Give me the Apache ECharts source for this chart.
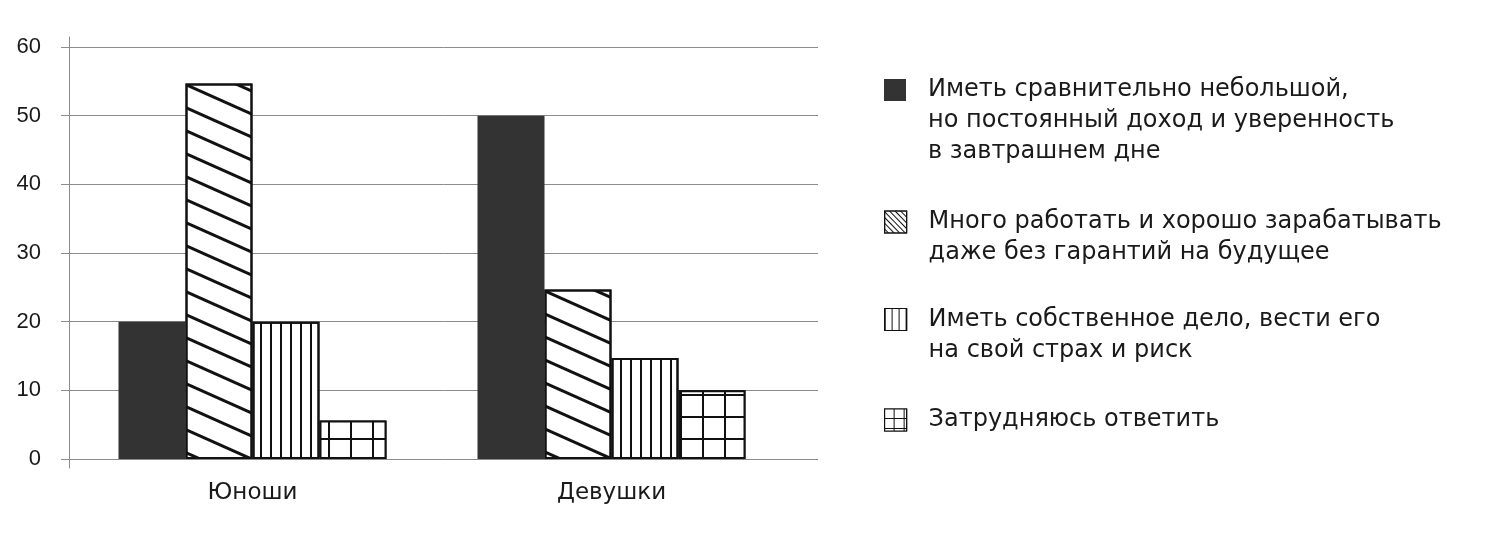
<!DOCTYPE html>
<html>
<head>
<meta charset="utf-8">
<script src="https://cdn.jsdelivr.net/npm/echarts@6/dist/echarts.min.js"></script>
<style>html,body{margin:0;padding:0;background:#fff}#c{width:1500px;height:534px}</style>
</head>
<body>
<div id="c"></div>
<script>
const categories = ['Юноши', 'Девушки'];
const seriesNames = [
  'Иметь сравнительно небольшой,\nно постоянный доход и уверенность\nв завтрашнем дне',
  'Много работать и хорошо зарабатывать\nдаже без гарантий на будущее',
  'Иметь собственное дело, вести его\nна свой страх и риск',
  'Затрудняюсь ответить'
];
const stableIncome = [20, 50];
const workHard = [54.7, 24.7];
const ownBusiness = [20, 14.7];
const hardToSay = [5.6, 10];
const yTicks = { min: 0, max: 60, interval: 10 };

const values = [stableIncome, workHard, ownBusiness, hardToSay];
const styles = [
  { color: '#333333' },
  { color: '#ffffff', borderColor: '#111', borderWidth: 2,
    decal: { symbol: 'rect', symbolSize: 1, color: '#111', dashArrayX: [1, 0], dashArrayY: [3, 18], rotation: 0.42 } },
  { color: '#ffffff', borderColor: '#111', borderWidth: 2,
    decal: { symbol: 'rect', symbolSize: 1, color: '#111', dashArrayX: [2, 8], dashArrayY: [1, 0] } },
  { color: '#111111', borderColor: '#111', borderWidth: 2,
    decal: { symbol: 'rect', symbolSize: 1, color: '#ffffff', dashArrayX: [20, 2], dashArrayY: [20, 2] } }
];
const iconStyles = [
  { color: '#333333', borderWidth: 0 },
  { color: '#ffffff', borderColor: '#111', borderWidth: 1.2,
    decal: { symbol: 'rect', symbolSize: 1, color: '#111', dashArrayX: [1, 0], dashArrayY: [1, 3], rotation: 0.8 } },
  { color: '#ffffff', borderColor: '#111', borderWidth: 1.2,
    decal: { symbol: 'rect', symbolSize: 1, color: '#111', dashArrayX: [1, 6], dashArrayY: [1, 0] } },
  { color: '#111111', borderColor: '#111', borderWidth: 1.2,
    decal: { symbol: 'rect', symbolSize: 1, color: '#ffffff', dashArrayX: [9, 1], dashArrayY: [9, 1] } }
];

const legendFont = 'DejaVu Sans';
const legendTops = [12.5, 175.5, 273, 404.5];
const legends = seriesNames.map((n, i) => {
  const lines = n.split('\n').length;
  return {
    data: [{ name: n, itemStyle: iconStyles[i] }], orient: 'vertical', left: 884, top: legendTops[i], padding: 0,
    itemWidth: 22, itemHeight: 22, icon: 'rect', selectedMode: false,
    formatter: (name) => '\n'.repeat(lines - 1) + name,
    textStyle: { fontFamily: legendFont, fontSize: 24, color: '#1a1a1a', lineHeight: 31,
      padding: [0, 0, 0, 17] }
  };
});

const chart = echarts.init(document.getElementById('c'), null, { renderer: 'canvas' });
chart.setOption({
  animation: false,
  backgroundColor: '#ffffff',
  legend: legends,
  grid: [
    { left: 69, right: 682, top: 47, bottom: 75 },
    { left: 73, width: 718, top: 47, bottom: 75 },
    { left: 69, width: 10, top: 37, bottom: 66 }
  ],
  xAxis: [
    { gridIndex: 0, type: 'value', show: false },
    { gridIndex: 1, type: 'category', data: categories,
      axisLine: { show: false }, axisTick: { show: false },
      axisLabel: { margin: 23, fontFamily: legendFont, fontSize: 23, color: '#1a1a1a' } },
    { gridIndex: 2, type: 'value', show: false }
  ],
  yAxis: [
    { gridIndex: 0, type: 'value', min: yTicks.min, max: yTicks.max, interval: yTicks.interval,
      axisLine: { show: false },
      axisTick: { show: true, length: 8, lineStyle: { color: '#8c8c8c' } },
      splitLine: { show: true, lineStyle: { color: '#8c8c8c', width: 1 } },
      axisLabel: { margin: 28, fontFamily: 'Liberation Sans', fontSize: 22, color: '#1a1a1a' } },
    { gridIndex: 1, type: 'value', min: yTicks.min, max: yTicks.max, interval: yTicks.interval, show: false },
    { gridIndex: 2, type: 'value', min: 0, max: 1,
      axisLine: { show: true, lineStyle: { color: '#8c8c8c', width: 1 } },
      axisTick: { show: false }, axisLabel: { show: false }, splitLine: { show: false } }
  ],
  series: seriesNames.map((n, i) => ({
    name: n, type: 'bar', xAxisIndex: 1, yAxisIndex: 1,
    data: values[i], barWidth: 67, barGap: '0%',
    itemStyle: styles[i], emphasis: { disabled: true }
  }))
});
</script>
</body>
</html>
